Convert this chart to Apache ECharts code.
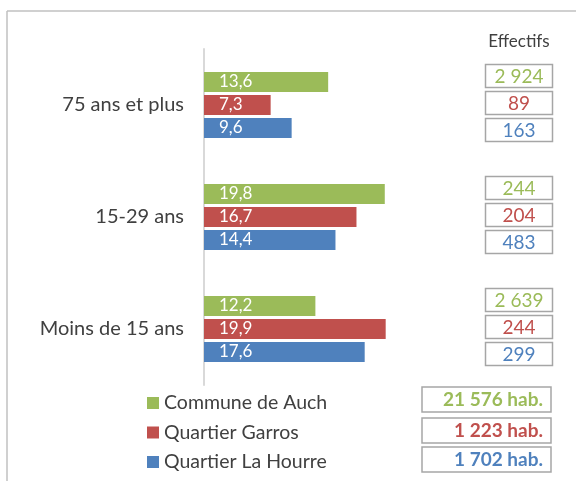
<!DOCTYPE html>
<html>
<head>
<meta charset="utf-8">
<script src="https://cdn.jsdelivr.net/npm/echarts@6/dist/echarts.min.js"></script>
<style>html,body{margin:0;padding:0;background:#fff}#c{width:576px;height:481px}</style>
</head>
<body>
<div id="c"></div>
<script>
var categories = ["75 ans et plus", "15-29 ans", "Moins de 15 ans"];
var seriesNames = ["Commune de Auch", "Quartier Garros", "Quartier La Hourre"];
var auch = [13.6, 19.8, 12.2];
var garros = [7.3, 16.7, 19.9];
var hourre = [9.6, 14.4, 17.6];
var effAuch = [2924, 244, 2639];
var effGarros = [89, 204, 244];
var effHourre = [163, 483, 299];
var totals = [21576, 1223, 1702];
var colors = ["#9bbb59", "#c0504d", "#4f81bd"];

var FONT = "Lato, Carlito, Calibri, sans-serif";
function fmtInt(n){ return String(n).replace(/\B(?=(\d{3})+(?!\d))/g, " "); }
function fmtDec(v){ return v.toFixed(1).replace(".", ","); }

var effData = [];
[effAuch, effGarros, effHourre].forEach(function(arr, k){
  arr.forEach(function(v, i){ effData.push([0, i, k, v]); });
});
var boxOffsets = [-29, -2, 25];

var chart = echarts.init(document.getElementById('c'));
var barSeries = [auch, garros, hourre].map(function(d, k){
  return {
    name: seriesNames[k], type: 'bar', data: d,
    barWidth: 20, barGap: '15%',
    itemStyle: { color: colors[k] },
    label: { show: true, position: 'insideLeft', distance: 15, color: '#fff',
      fontSize: 17, fontFamily: FONT, formatter: function(p){ return fmtDec(p.value); } }
  };
});
barSeries.push({
  type: 'custom', name: 'effectifs', coordinateSystem: 'cartesian2d', clip: false,
  encode: { x: 0, y: 1 }, data: effData, silent: true,
  renderItem: function(params, api){
    var cat = api.value(1), k = api.value(2), v = api.value(3);
    var p = api.coord([0, cat]);
    var cy = p[1] + boxOffsets[k];
    return { type: 'group', children: [
      { type: 'rect', shape: { x: 485.5, y: cy - 11.5, width: 67, height: 23 },
        style: { fill: '#fff', stroke: '#a6a6a6', lineWidth: 1.5 } },
      { type: 'text', style: { text: fmtInt(v), x: 519, y: cy + 1, align: 'center', verticalAlign: 'middle',
        fill: colors[k], fontSize: 19, fontFamily: FONT } }
    ]};
  }
});

var graphics = [
  { type: 'line', shape: { x1: 7, y1: 11, x2: 576, y2: 11 }, style: { stroke: '#c0c0c0', lineWidth: 1.5 } },
  { type: 'line', shape: { x1: 7, y1: 11, x2: 7, y2: 481 }, style: { stroke: '#c0c0c0', lineWidth: 1.5 } },
  { type: 'text', style: { text: 'Effectifs', x: 519, y: 42, align: 'center', verticalAlign: 'middle',
    fill: '#404040', fontSize: 17, fontFamily: FONT } }
];
var totTop = [387, 418, 447];
totals.forEach(function(t, k){
  graphics.push({ type: 'rect', shape: { x: 422, y: totTop[k], width: 129, height: 25 },
    style: { fill: '#fff', stroke: '#a6a6a6', lineWidth: 1.5 } });
  graphics.push({ type: 'text', style: { text: fmtInt(t) + ' hab.', x: 543, y: totTop[k] + 13,
    align: 'right', verticalAlign: 'middle', fill: colors[k], fontSize: 19, fontWeight: 'bold', fontFamily: FONT } });
});

chart.setOption({
  animation: false,
  textStyle: { fontFamily: FONT },
  grid: { left: 204, top: 49, height: 336, width: 182.6 },
  xAxis: { type: 'value', min: 0, max: 20, show: false },
  yAxis: { type: 'category', inverse: true, data: categories,
    axisLine: { lineStyle: { color: '#d9d9d9', width: 2 } },
    axisTick: { length: 6, lineStyle: { color: '#d9d9d9', width: 2 } },
    axisLabel: { fontSize: 20, color: '#404040', margin: 20, fontFamily: FONT } },
  legend: { data: seriesNames, orient: 'vertical', left: 142, top: 388, itemWidth: 12, itemHeight: 12,
    itemGap: 9.5, icon: 'rect', textStyle: { fontSize: 19.5, color: '#404040', fontFamily: FONT } },
  graphic: graphics,
  series: barSeries
});
</script>
</body>
</html>
